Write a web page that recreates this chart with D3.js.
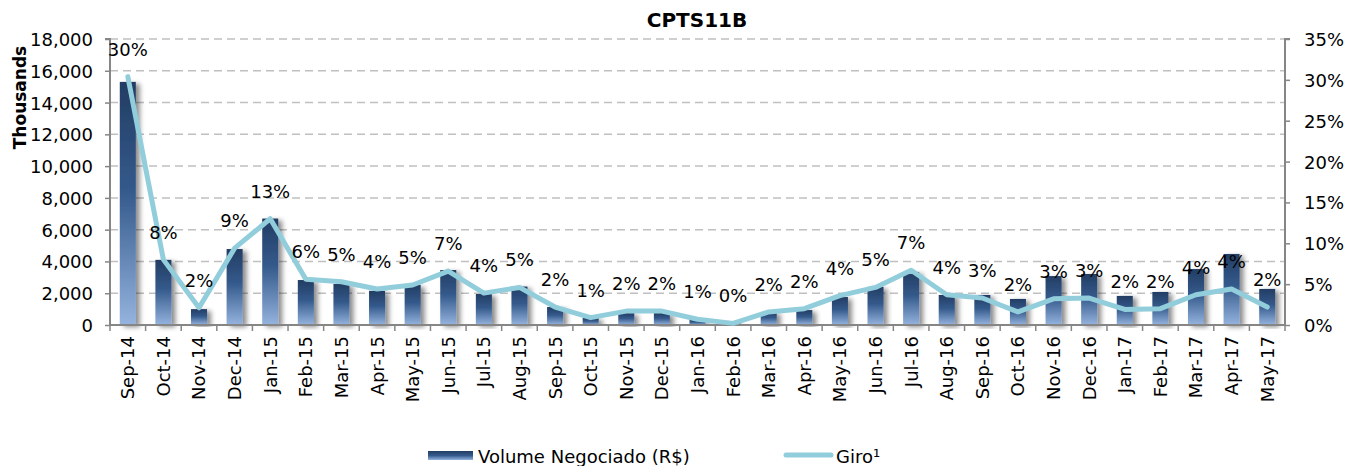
<!DOCTYPE html>
<html>
<head>
<meta charset="utf-8">
<script src="https://cdn.jsdelivr.net/npm/d3@7"></script>
<style>
  body { margin: 0; background: #fff; }
  text { font-family: "DejaVu Sans", Verdana, sans-serif; fill: #000; }
</style>
</head>
<body>
<svg id="chart" width="1349" height="466"></svg>
<script>
// months on the x axis
const months = ["Sep-14","Oct-14","Nov-14","Dec-14","Jan-15","Feb-15","Mar-15","Apr-15","May-15","Jun-15","Jul-15","Aug-15",
  "Sep-15","Oct-15","Nov-15","Dec-15","Jan-16","Feb-16","Mar-16","Apr-16","May-16","Jun-16","Jul-16","Aug-16",
  "Sep-16","Oct-16","Nov-16","Dec-16","Jan-17","Feb-17","Mar-17","Apr-17","May-17"];
// Volume Negociado (R$), thousands
const volume = [15300,4100,1000,4780,6700,2830,2580,2150,2520,3460,1950,2420,
  1130,440,750,750,320,100,820,940,1760,2400,3340,1890,
  1890,1640,3080,3210,1830,2080,3520,4470,2270];
// Giro (share, 0..1)
const giro = [0.304,0.080,0.021,0.094,0.130,0.056,0.053,0.044,0.049,0.066,0.039,0.046,
  0.022,0.009,0.017,0.017,0.007,0.002,0.016,0.020,0.036,0.046,0.067,0.037,
  0.033,0.016,0.032,0.033,0.019,0.020,0.037,0.044,0.022];
const volTicks = [0,2000,4000,6000,8000,10000,12000,14000,16000,18000];
const giroTicks = [0,0.05,0.10,0.15,0.20,0.25,0.30,0.35];

const svg = d3.select("#chart");
const pLeft = 110, pRight = 1285, pTop = 39, pBottom = 325;

const x = d3.scaleBand().domain(months).range([pLeft, pRight]).paddingInner(0.55).paddingOuter(0.275);
const xb = d3.scaleBand().domain(months).range([pLeft, pRight]); // category boundaries / centers
const y = d3.scaleLinear().domain([0, 18000]).range([pBottom, pTop]);
const y2 = d3.scaleLinear().domain([0, 0.35]).range([pBottom, pTop]);

const defs = svg.append("defs");
const grad = defs.append("linearGradient").attr("id", "barGrad")
  .attr("x1", 0).attr("y1", 0).attr("x2", 0).attr("y2", 1);
grad.append("stop").attr("offset", "0%").attr("stop-color", "#233d63");
grad.append("stop").attr("offset", "45%").attr("stop-color", "#345a8c");
grad.append("stop").attr("offset", "100%").attr("stop-color", "#95b3de");
const shadow = defs.append("filter").attr("id", "shadow")
  .attr("x", "-20%").attr("y", "-10%").attr("width", "180%").attr("height", "120%");
shadow.append("feDropShadow").attr("dx", 4).attr("dy", 2).attr("stdDeviation", 2.5)
  .attr("flood-color", "#000").attr("flood-opacity", 0.45);

// gridlines
svg.append("g").selectAll("line")
  .data(volTicks.filter(d => d > 0))
  .enter().append("line")
  .attr("x1", pLeft).attr("x2", pRight)
  .attr("y1", d => y(d)).attr("y2", d => y(d))
  .attr("stroke", "#c0c0c0").attr("stroke-width", 1.5)
  .attr("stroke-dasharray", "8,5");

// title
svg.append("text").attr("x", 697).attr("y", 27)
  .attr("text-anchor", "middle").style("font-size", "20px").style("font-weight", "bold")
  .text("CPTS11B");

// bars
svg.append("g").selectAll("rect")
  .data(volume)
  .enter().append("rect")
  .attr("x", (d, i) => x(months[i]))
  .attr("width", x.bandwidth())
  .attr("y", d => y(d))
  .attr("height", d => pBottom - y(d))
  .attr("fill", "url(#barGrad)")
  .attr("filter", "url(#shadow)");

// axes
const axisColor = "#868686";
const gl = svg.append("g").attr("transform", `translate(${pLeft},0)`)
  .call(d3.axisLeft(y).tickValues(volTicks).tickFormat(d3.format(",")).tickSize(5).tickPadding(12));
const gr = svg.append("g").attr("transform", `translate(${pRight},0)`)
  .call(d3.axisRight(y2).tickValues(giroTicks).tickFormat(d3.format(".0%")).tickSize(5).tickPadding(14));
const gx = svg.append("g").attr("transform", `translate(0,${pBottom})`)
  .call(d3.axisBottom(xb).tickSize(0).tickPadding(0));
[gl, gr, gx].forEach(g => {
  g.select(".domain").attr("stroke", axisColor).attr("stroke-width", 2);
  g.selectAll(".tick line").attr("stroke", axisColor).attr("stroke-width", 1.5);
  g.selectAll("text").style("font-size", "18px").attr("fill", "#000").style("font-family", '"DejaVu Sans", Verdana, sans-serif');
});
gl.select(".domain").attr("d", `M-5,${pTop}H0V${pBottom}`);
gr.select(".domain").attr("d", `M5,${pTop}H0V${pBottom}`);
gx.select(".domain").attr("d", `M${pLeft},0H${pRight}`);
gl.selectAll(".tick text").attr("dy", "0.36em");
gr.selectAll(".tick text").attr("dy", "0.36em");
gx.selectAll(".tick text")
  .attr("transform", "rotate(-90)")
  .attr("text-anchor", "end")
  .attr("x", -11).attr("y", 0).attr("dy", "0.36em");
// x tick marks at category boundaries
gx.append("g").selectAll("line")
  .data(months.concat([null]))
  .enter().append("line")
  .attr("x1", (d, i) => pLeft + i * xb.step()).attr("x2", (d, i) => pLeft + i * xb.step())
  .attr("y1", 0).attr("y2", 6)
  .attr("stroke", axisColor).attr("stroke-width", 1.5);

// y label
svg.append("text")
  .attr("transform", `translate(26,${(pTop + 152) / 2 + 2}) rotate(-90)`)
  .attr("text-anchor", "middle").style("font-size", "17px").style("font-weight", "bold")
  .text("Thousands");

// giro line
const line = d3.line()
  .x((d, i) => xb(months[i]) + xb.bandwidth() / 2)
  .y(d => y2(d));
svg.append("path").datum(giro)
  .attr("d", line)
  .attr("fill", "none")
  .attr("stroke", "#92cddc")
  .attr("stroke-width", 5)
  .attr("stroke-linejoin", "round")
  .attr("stroke-linecap", "round");

// data labels
svg.append("g").selectAll("text")
  .data(giro)
  .enter().append("text")
  .attr("x", (d, i) => xb(months[i]) + xb.bandwidth() / 2)
  .attr("y", d => y2(d) - 21)
  .attr("text-anchor", "middle")
  .style("font-size", "18px")
  .text(d => d3.format(".0%")(d));

// legend
const lg = svg.append("g");
const lgrad = defs.append("linearGradient").attr("id", "legGrad")
  .attr("x1", 0).attr("y1", 0).attr("x2", 0).attr("y2", 1);
lgrad.append("stop").attr("offset", "0%").attr("stop-color", "#233d63");
lgrad.append("stop").attr("offset", "50%").attr("stop-color", "#345a8c");
lgrad.append("stop").attr("offset", "100%").attr("stop-color", "#95b3de");
lg.append("rect").attr("x", 428).attr("y", 451).attr("width", 45).attr("height", 9)
  .attr("fill", "url(#legGrad)");
lg.append("text").attr("x", 478).attr("y", 463).style("font-size", "18px").text("Volume Negociado (R$)");
lg.append("line").attr("x1", 786).attr("x2", 831).attr("y1", 455).attr("y2", 455)
  .attr("stroke", "#92cddc").attr("stroke-width", 5).attr("stroke-linecap", "round");
lg.append("text").attr("x", 836).attr("y", 463).style("font-size", "18px").text("Giro¹");
</script>
</body>
</html>
